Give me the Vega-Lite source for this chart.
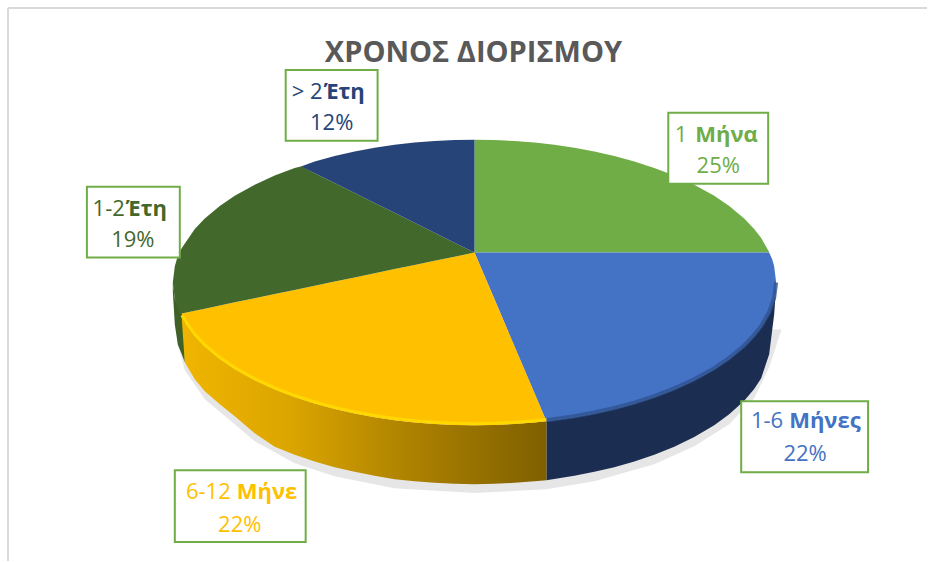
{"$schema":"https://vega.github.io/schema/vega-lite/v6.json","width":928,"height":562,"autosize":{"type":"fit","contains":"padding"},"padding":0,"background":"white","view":{"stroke":null},
"datasets":{
"faces":[
{"s":"1 Μήνα","x":475,"y":140,"y2":253},{"s":"1 Μήνα","x":495,"y":140.3,"y2":253},{"s":"1 Μήνα","x":515,"y":141.3,"y2":253},{"s":"1 Μήνα","x":535,"y":142.8,"y2":253},{"s":"1 Μήνα","x":555,"y":145.1,"y2":253},{"s":"1 Μήνα","x":575,"y":148.1,"y2":253},{"s":"1 Μήνα","x":595,"y":151.8,"y2":253},{"s":"1 Μήνα","x":615,"y":156.3,"y2":253},{"s":"1 Μήνα","x":635,"y":161.7,"y2":253},{"s":"1 Μήνα","x":655,"y":168.2,"y2":253},{"s":"1 Μήνα","x":675,"y":175.9,"y2":253},{"s":"1 Μήνα","x":695,"y":185,"y2":253},{"s":"1 Μήνα","x":715,"y":196.2,"y2":253},{"s":"1 Μήνα","x":730,"y":206.4,"y2":253},{"s":"1 Μήνα","x":745,"y":218.9,"y2":253},{"s":"1 Μήνα","x":755,"y":229.4,"y2":253},{"s":"1 Μήνα","x":762,"y":238.5,"y2":253},{"s":"1 Μήνα","x":770,"y":252.4,"y2":253},
{"s":"1-6 Μήνες","x":475,"y":253,"y2":253},{"s":"1-6 Μήνες","x":495,"y":253,"y2":299.9},{"s":"1-6 Μήνες","x":515,"y":253,"y2":346.9},{"s":"1-6 Μήνες","x":535,"y":253,"y2":393.8},{"s":"1-6 Μήνες","x":547,"y":253,"y2":421.9},{"s":"1-6 Μήνες","x":555,"y":253,"y2":420.9},{"s":"1-6 Μήνες","x":575,"y":253,"y2":417.9},{"s":"1-6 Μήνες","x":595,"y":253,"y2":414.2},{"s":"1-6 Μήνες","x":615,"y":253,"y2":409.7},{"s":"1-6 Μήνες","x":635,"y":253,"y2":404.3},{"s":"1-6 Μήνες","x":655,"y":253,"y2":397.8},{"s":"1-6 Μήνες","x":675,"y":253,"y2":390.1},{"s":"1-6 Μήνες","x":695,"y":253,"y2":381},{"s":"1-6 Μήνες","x":715,"y":253,"y2":369.8},{"s":"1-6 Μήνες","x":730,"y":253,"y2":359.6},{"s":"1-6 Μήνες","x":745,"y":253,"y2":347.1},{"s":"1-6 Μήνες","x":755,"y":253,"y2":336.6},{"s":"1-6 Μήνες","x":762,"y":253,"y2":327.5},{"s":"1-6 Μήνες","x":770,"y":253,"y2":313.6},{"s":"1-6 Μήνες","x":773,"y":259.8,"y2":306.2},{"s":"1-6 Μήνες","x":775,"y":266.6,"y2":299.4},{"s":"1-6 Μήνες","x":777,"y":283,"y2":283},
{"s":"6-12 Μήνε","x":182,"y":314,"y2":317.6},{"s":"6-12 Μήνε","x":195,"y":311.2,"y2":336.6},{"s":"6-12 Μήνε","x":205,"y":309.2,"y2":347.1},{"s":"6-12 Μήνε","x":220,"y":306,"y2":359.6},{"s":"6-12 Μήνε","x":235,"y":302.9,"y2":369.8},{"s":"6-12 Μήνε","x":255,"y":298.8,"y2":381},{"s":"6-12 Μήνε","x":275,"y":294.6,"y2":390.1},{"s":"6-12 Μήνε","x":295,"y":290.4,"y2":397.8},{"s":"6-12 Μήνε","x":315,"y":286.3,"y2":404.3},{"s":"6-12 Μήνε","x":335,"y":282.1,"y2":409.7},{"s":"6-12 Μήνε","x":355,"y":278,"y2":414.2},{"s":"6-12 Μήνε","x":375,"y":273.8,"y2":417.9},{"s":"6-12 Μήνε","x":395,"y":269.6,"y2":420.9},{"s":"6-12 Μήνε","x":415,"y":265.5,"y2":423.2},{"s":"6-12 Μήνε","x":435,"y":261.3,"y2":424.7},{"s":"6-12 Μήνε","x":455,"y":257.2,"y2":425.7},{"s":"6-12 Μήνε","x":475,"y":253,"y2":426},{"s":"6-12 Μήνε","x":495,"y":299.9,"y2":425.7},{"s":"6-12 Μήνε","x":515,"y":346.9,"y2":424.7},{"s":"6-12 Μήνε","x":535,"y":393.8,"y2":423.2},{"s":"6-12 Μήνε","x":547,"y":421.9,"y2":421.9},
{"s":"1-2 Έτη","x":173,"y":283,"y2":283},{"s":"1-2 Έτη","x":175,"y":266.6,"y2":299.4},{"s":"1-2 Έτη","x":177,"y":259.8,"y2":306.2},{"s":"1-2 Έτη","x":180,"y":252.4,"y2":313.6},{"s":"1-2 Έτη","x":182,"y":248.4,"y2":314},{"s":"1-2 Έτη","x":195,"y":229.4,"y2":311.2},{"s":"1-2 Έτη","x":205,"y":218.9,"y2":309.2},{"s":"1-2 Έτη","x":220,"y":206.4,"y2":306},{"s":"1-2 Έτη","x":235,"y":196.2,"y2":302.9},{"s":"1-2 Έτη","x":255,"y":185,"y2":298.8},{"s":"1-2 Έτη","x":275,"y":175.9,"y2":294.6},{"s":"1-2 Έτη","x":295,"y":168.2,"y2":290.4},{"s":"1-2 Έτη","x":302,"y":166.5,"y2":289},{"s":"1-2 Έτη","x":315,"y":173.5,"y2":286.3},{"s":"1-2 Έτη","x":335,"y":183.4,"y2":282.1},{"s":"1-2 Έτη","x":355,"y":193.4,"y2":278},{"s":"1-2 Έτη","x":375,"y":203.3,"y2":273.8},{"s":"1-2 Έτη","x":395,"y":213.2,"y2":269.6},{"s":"1-2 Έτη","x":415,"y":223.2,"y2":265.5},{"s":"1-2 Έτη","x":435,"y":233.1,"y2":261.3},{"s":"1-2 Έτη","x":455,"y":243.1,"y2":257.2},{"s":"1-2 Έτη","x":475,"y":253,"y2":253},
{"s":"> 2 Έτη","x":302,"y":166.5,"y2":167},{"s":"> 2 Έτη","x":315,"y":161.7,"y2":173.5},{"s":"> 2 Έτη","x":335,"y":156.3,"y2":183.4},{"s":"> 2 Έτη","x":355,"y":151.8,"y2":193.4},{"s":"> 2 Έτη","x":375,"y":148.1,"y2":203.3},{"s":"> 2 Έτη","x":395,"y":145.1,"y2":213.2},{"s":"> 2 Έτη","x":415,"y":142.8,"y2":223.2},{"s":"> 2 Έτη","x":435,"y":141.3,"y2":233.1},{"s":"> 2 Έτη","x":455,"y":140.3,"y2":243.1},{"s":"> 2 Έτη","x":475,"y":140,"y2":253}
],
"blueSide":[{"x":547,"y":421.9,"y2":481},{"x":575,"y":417.9,"y2":476.6},{"x":595,"y":414.2,"y2":472.7},{"x":615,"y":409.7,"y2":468},{"x":635,"y":404.3,"y2":462.3},{"x":655,"y":397.8,"y2":455.6},{"x":675,"y":390.1,"y2":447.5},{"x":695,"y":381,"y2":437.8},{"x":715,"y":369.8,"y2":425.9},{"x":730,"y":359.6,"y2":415},{"x":745,"y":347.1,"y2":401.4},{"x":755,"y":336.6,"y2":389.6},{"x":762,"y":327.5,"y2":379},{"x":770,"y":313.6,"y2":355},{"x":775,"y":299.4,"y2":315},{"x":777,"y":283,"y2":287}],
"yellowSide":[{"x":182,"y":317.6,"y2":320},{"x":185,"y":323,"y2":363},{"x":195,"y":336.6,"y2":380},{"x":205,"y":347.1,"y2":392},{"x":220,"y":359.6,"y2":405},{"x":235,"y":369.8,"y2":417},{"x":255,"y":381,"y2":434},{"x":275,"y":390.1,"y2":447.5},{"x":295,"y":397.8,"y2":455.6},{"x":315,"y":404.3,"y2":462.3},{"x":335,"y":409.7,"y2":468},{"x":355,"y":414.2,"y2":472.7},{"x":375,"y":417.9,"y2":476.6},{"x":395,"y":420.9,"y2":480},{"x":415,"y":423.2,"y2":482},{"x":435,"y":424.7,"y2":483.7},{"x":455,"y":425.7,"y2":484.7},{"x":475,"y":426,"y2":485},{"x":495,"y":425.7,"y2":484.7},{"x":515,"y":424.7,"y2":483.7},{"x":535,"y":423.2,"y2":482},{"x":547,"y":421.9,"y2":481}],
"greenSide":[{"x":173,"y":283,"y2":292},{"x":175,"y":299.4,"y2":325},{"x":178,"y":306,"y2":345},{"x":182,"y":314,"y2":355},{"x":185,"y":322,"y2":363}],
"shadow":[{"x":178,"y":330,"y2":345},{"x":185,"y":330,"y2":371},{"x":205,"y":330,"y2":400},{"x":235,"y":330,"y2":425},{"x":255,"y":330,"y2":442},{"x":295,"y":330,"y2":464},{"x":335,"y":330,"y2":477},{"x":395,"y":330,"y2":489},{"x":475,"y":330,"y2":494},{"x":547,"y":330,"y2":490},{"x":595,"y":330,"y2":482},{"x":655,"y":330,"y2":465},{"x":695,"y":330,"y2":447},{"x":730,"y":330,"y2":425},{"x":755,"y":330,"y2":399},{"x":770,"y":330,"y2":368},{"x":782,"y":330,"y2":331}],
"yellowEdge":[{"x":182,"y":316},{"x":195,"y":335},{"x":205,"y":345.5},{"x":220,"y":358},{"x":235,"y":368.2},{"x":255,"y":379.4},{"x":275,"y":388.5},{"x":295,"y":396.2},{"x":315,"y":402.7},{"x":335,"y":408.1},{"x":355,"y":412.6},{"x":375,"y":416.3},{"x":395,"y":419.3},{"x":415,"y":421.6},{"x":435,"y":423.1},{"x":455,"y":424.1},{"x":475,"y":424.4},{"x":495,"y":424.1},{"x":515,"y":423.1},{"x":535,"y":421.6},{"x":547,"y":420.3}],
"blueEdge":[{"x":547,"y":420.9},{"x":575,"y":416.9},{"x":595,"y":413.2},{"x":615,"y":408.7},{"x":635,"y":403.3},{"x":655,"y":396.8},{"x":675,"y":389.1},{"x":695,"y":380},{"x":715,"y":368.8},{"x":730,"y":358.6},{"x":745,"y":346.1},{"x":755,"y":335.6},{"x":762,"y":326.5},{"x":770,"y":312.6},{"x":775,"y":298.4},{"x":777,"y":283}],
"frame":[{"x":8,"y":8,"x2":928,"y2":8},{"x":8,"y":8,"x2":8,"y2":562}],
"boxes":[{"x":286,"x2":378,"y":70,"y2":141},{"x":669,"x2":769,"y":113,"y2":184},{"x":87,"x2":180,"y":187,"y2":258},{"x":742,"x2":869,"y":402,"y2":473},{"x":175,"x2":306,"y":471,"y2":543}],
"pct":[{"s":"> 2 Έτη","x":332,"y":130,"t":"12%"},{"s":"1 Μήνα","x":719,"y":173,"t":"25%"},{"s":"1-2 Έτη","x":133,"y":247,"t":"19%"},{"s":"1-6 Μήνες","x":806,"y":462,"t":"22%"},{"s":"6-12 Μήνε","x":240,"y":533,"t":"22%"}],
"pre":[{"s":"> 2 Έτη","x":323,"y":99,"t":"> 2"},{"s":"1 Μήνα","x":688,"y":142,"t":"1"},{"s":"1-2 Έτη","x":125,"y":216,"t":"1-2"},{"s":"1-6 Μήνες","x":784,"y":429,"t":"1-6"},{"s":"6-12 Μήνε","x":231,"y":500,"t":"6-12"}],
"bold":[{"s":"> 2 Έτη","x":324,"y":99,"t":"Έτη"},{"s":"1 Μήνα","x":696,"y":142,"t":"Μήνα"},{"s":"1-2 Έτη","x":126,"y":216,"t":"Έτη"},{"s":"1-6 Μήνες","x":790,"y":429,"t":"Μήνες"},{"s":"6-12 Μήνε","x":237,"y":500,"t":"Μήνε"}],
"title":[{"x":474,"y":62,"t":"ΧΡΟΝΟΣ ΔΙΟΡΙΣΜΟΥ"}]
},
"encoding":{
"x":{"field":"x","type":"quantitative","scale":{"domain":[0,928],"nice":false,"zero":false},"axis":null},
"y":{"field":"y","type":"quantitative","scale":{"domain":[562,0],"nice":false,"zero":false},"axis":null}
},
"layer":[
{"data":{"name":"frame"},"mark":{"type":"rule","color":"#d9d9d9","strokeWidth":2},"encoding":{"x2":{"field":"x2"},"y2":{"field":"y2"}}},
{"data":{"name":"shadow"},"mark":{"type":"area","orient":"vertical","color":"#e6e6e6"},"encoding":{"y2":{"field":"y2"}}},
{"data":{"name":"greenSide"},"mark":{"type":"area","orient":"vertical","color":"#3f6128"},"encoding":{"y2":{"field":"y2"}}},
{"data":{"name":"blueSide"},"mark":{"type":"area","orient":"vertical","color":"#1b2e52"},"encoding":{"y2":{"field":"y2"}}},
{"data":{"name":"yellowSide"},"mark":{"type":"area","orient":"vertical","color":{"gradient":"linear","x1":0,"y1":0,"x2":1,"y2":0,"stops":[{"offset":0,"color":"#f0b500"},{"offset":0.3,"color":"#dba500"},{"offset":0.6,"color":"#b08400"},{"offset":1,"color":"#7f6000"}]}},"encoding":{"y2":{"field":"y2"}}},
{"data":{"name":"faces"},"mark":{"type":"area","orient":"vertical"},"encoding":{"y2":{"field":"y2"},"color":{"field":"s","type":"nominal","scale":{"domain":["1 Μήνα","1-6 Μήνες","6-12 Μήνε","1-2 Έτη","> 2 Έτη"],"range":["#70AD47","#4472C4","#FFC000","#43682B","#264478"]},"legend":null}}},
{"data":{"name":"blueEdge"},"mark":{"type":"line","color":"#2f5391","strokeWidth":4,"opacity":0.8}},
{"data":{"name":"yellowEdge"},"mark":{"type":"line","color":"#FFD800","strokeWidth":3}},
{"data":{"name":"boxes"},"mark":{"type":"rect","fill":"white","stroke":"#70AD47","strokeWidth":2},"encoding":{"x2":{"field":"x2"},"y2":{"field":"y2"}}},
{"data":{"name":"pct"},"mark":{"type":"text","font":"Open Sans","fontSize":22,"align":"center","baseline":"alphabetic"},"encoding":{"text":{"field":"t"},"color":{"field":"s","type":"nominal","legend":null}}},
{"data":{"name":"pre"},"mark":{"type":"text","font":"Open Sans","fontSize":22,"align":"right","baseline":"alphabetic"},"encoding":{"text":{"field":"t"},"color":{"field":"s","type":"nominal","legend":null}}},
{"data":{"name":"bold"},"mark":{"type":"text","font":"Open Sans","fontSize":22,"fontWeight":"bold","align":"left","baseline":"alphabetic"},"encoding":{"text":{"field":"t"},"color":{"field":"s","type":"nominal","legend":null}}},
{"data":{"name":"title"},"mark":{"type":"text","font":"Open Sans","fontSize":29,"fontWeight":"bold","color":"#595959","align":"center","baseline":"alphabetic"},"encoding":{"text":{"field":"t"}}}
]}
